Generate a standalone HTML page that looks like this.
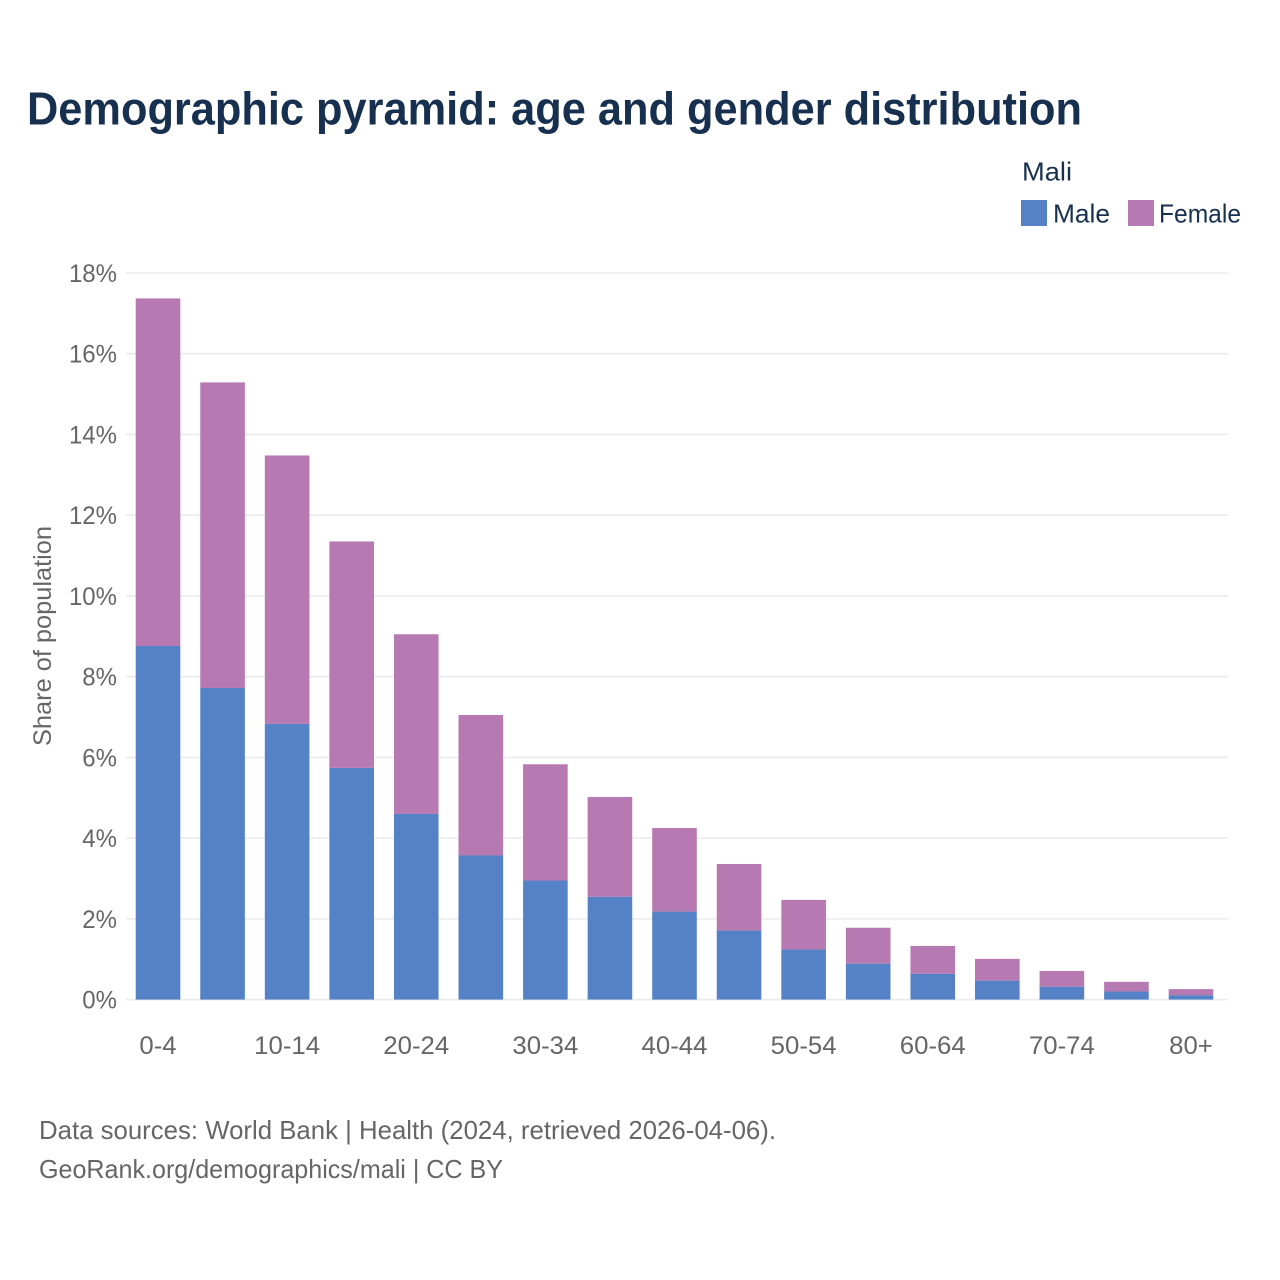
<!DOCTYPE html>
<html><head><meta charset="utf-8"><title>Demographic pyramid</title>
<style>html,body{margin:0;padding:0;background:#fff}svg{display:block}text{font-family:"Liberation Sans",sans-serif}</style>
</head><body>
<svg id="chart" xmlns="http://www.w3.org/2000/svg" width="1280" height="1280" viewBox="0 0 1280 1280">
<rect width="1280" height="1280" fill="#fff"/>
<text x="27" y="124.5" font-size="46" font-weight="700" fill="#18304f" textLength="1055" lengthAdjust="spacingAndGlyphs">Demographic pyramid: age and gender distribution</text>
<text x="1022" y="180.5" font-size="26" fill="#18304f" textLength="50" lengthAdjust="spacingAndGlyphs">Mali</text>
<rect x="1021" y="200" width="26" height="26" fill="#5581c6"/>
<text x="1053" y="222.5" font-size="26" fill="#18304f" textLength="57" lengthAdjust="spacingAndGlyphs">Male</text>
<rect x="1128" y="200" width="26" height="26" fill="#b679b2"/>
<text x="1159" y="222.5" font-size="26" fill="#18304f" textLength="82" lengthAdjust="spacingAndGlyphs">Female</text>
<g id="grid"></g>
<g id="bars"></g>
<g id="xaxis"></g>
<g id="yaxis"></g>
<text transform="translate(51 636) rotate(-90)" text-anchor="middle" font-size="25" fill="#666" textLength="220" lengthAdjust="spacingAndGlyphs">Share of population</text>
<text x="39" y="1139" font-size="26" fill="#666" textLength="737" lengthAdjust="spacingAndGlyphs">Data sources: World Bank | Health (2024, retrieved 2026-04-06).</text>
<text x="39" y="1178" font-size="26" fill="#666" textLength="464" lengthAdjust="spacingAndGlyphs">GeoRank.org/demographics/mali | CC BY</text>
</svg>
<script>
const categories = ['0-4','5-9','10-14','15-19','20-24','25-29','30-34','35-39','40-44','45-49','50-54','55-59','60-64','65-69','70-74','75-79','80+'];
const maleValues = [8.76,7.72,6.83,5.74,4.60,3.57,2.95,2.55,2.18,1.71,1.24,0.89,0.64,0.47,0.32,0.20,0.11];
const femaleValues = [8.61,7.57,6.65,5.61,4.45,3.48,2.88,2.47,2.07,1.65,1.23,0.89,0.69,0.54,0.39,0.24,0.15];
const yTicks = [0,2,4,6,8,10,12,14,16,18];
const xTickEvery = 2;

const NS = 'http://www.w3.org/2000/svg';
const y = v => 999.6 - v * (726.6 / 18);
const x = i => 158 + i * (1033 / 16);
const barWidth = 44.6;
function make(tag, attrs, parent, txt) {
  const el = document.createElementNS(NS, tag);
  for (const k in attrs) el.setAttribute(k, attrs[k]);
  if (txt !== undefined) el.textContent = txt;
  parent.appendChild(el);
  return el;
}
function fit(el, factor) {
  el.setAttribute('textLength', el.getComputedTextLength() * factor);
  el.setAttribute('lengthAdjust', 'spacingAndGlyphs');
}
const grid = document.getElementById('grid');
const yaxis = document.getElementById('yaxis');
const xaxis = document.getElementById('xaxis');
const bars = document.getElementById('bars');
yTicks.forEach(t => {
  const line = make('line', {x1:126, x2:1228, y1:y(t), y2:y(t), stroke:'#ebebeb', 'stroke-width':1.6}, grid);
  
  
  const label = make('text', {x:117, y:y(t)+9, 'text-anchor':'end', 'font-size':25, fill:'#666'}, yaxis, t + '%');
  
  
  fit(label, 0.96);
});
categories.forEach((c, i) => {
  const m = make('rect', {x:x(i)-barWidth/2, y:y(maleValues[i]), width:barWidth, height:y(0)-y(maleValues[i]), fill:'#5581c6'}, bars);
  
  
  const top = maleValues[i] + femaleValues[i];
  const f = make('rect', {x:x(i)-barWidth/2, y:y(top), width:barWidth, height:y(maleValues[i])-y(top), fill:'#b679b2'}, bars);
  
  
  if (i % xTickEvery === 0) {
    const label = make('text', {x:x(i), y:1054, 'text-anchor':'middle', 'font-size':25, fill:'#666'}, xaxis, c);
    
    
    fit(label, 1.03);
  }
});
</script>
</body></html>
